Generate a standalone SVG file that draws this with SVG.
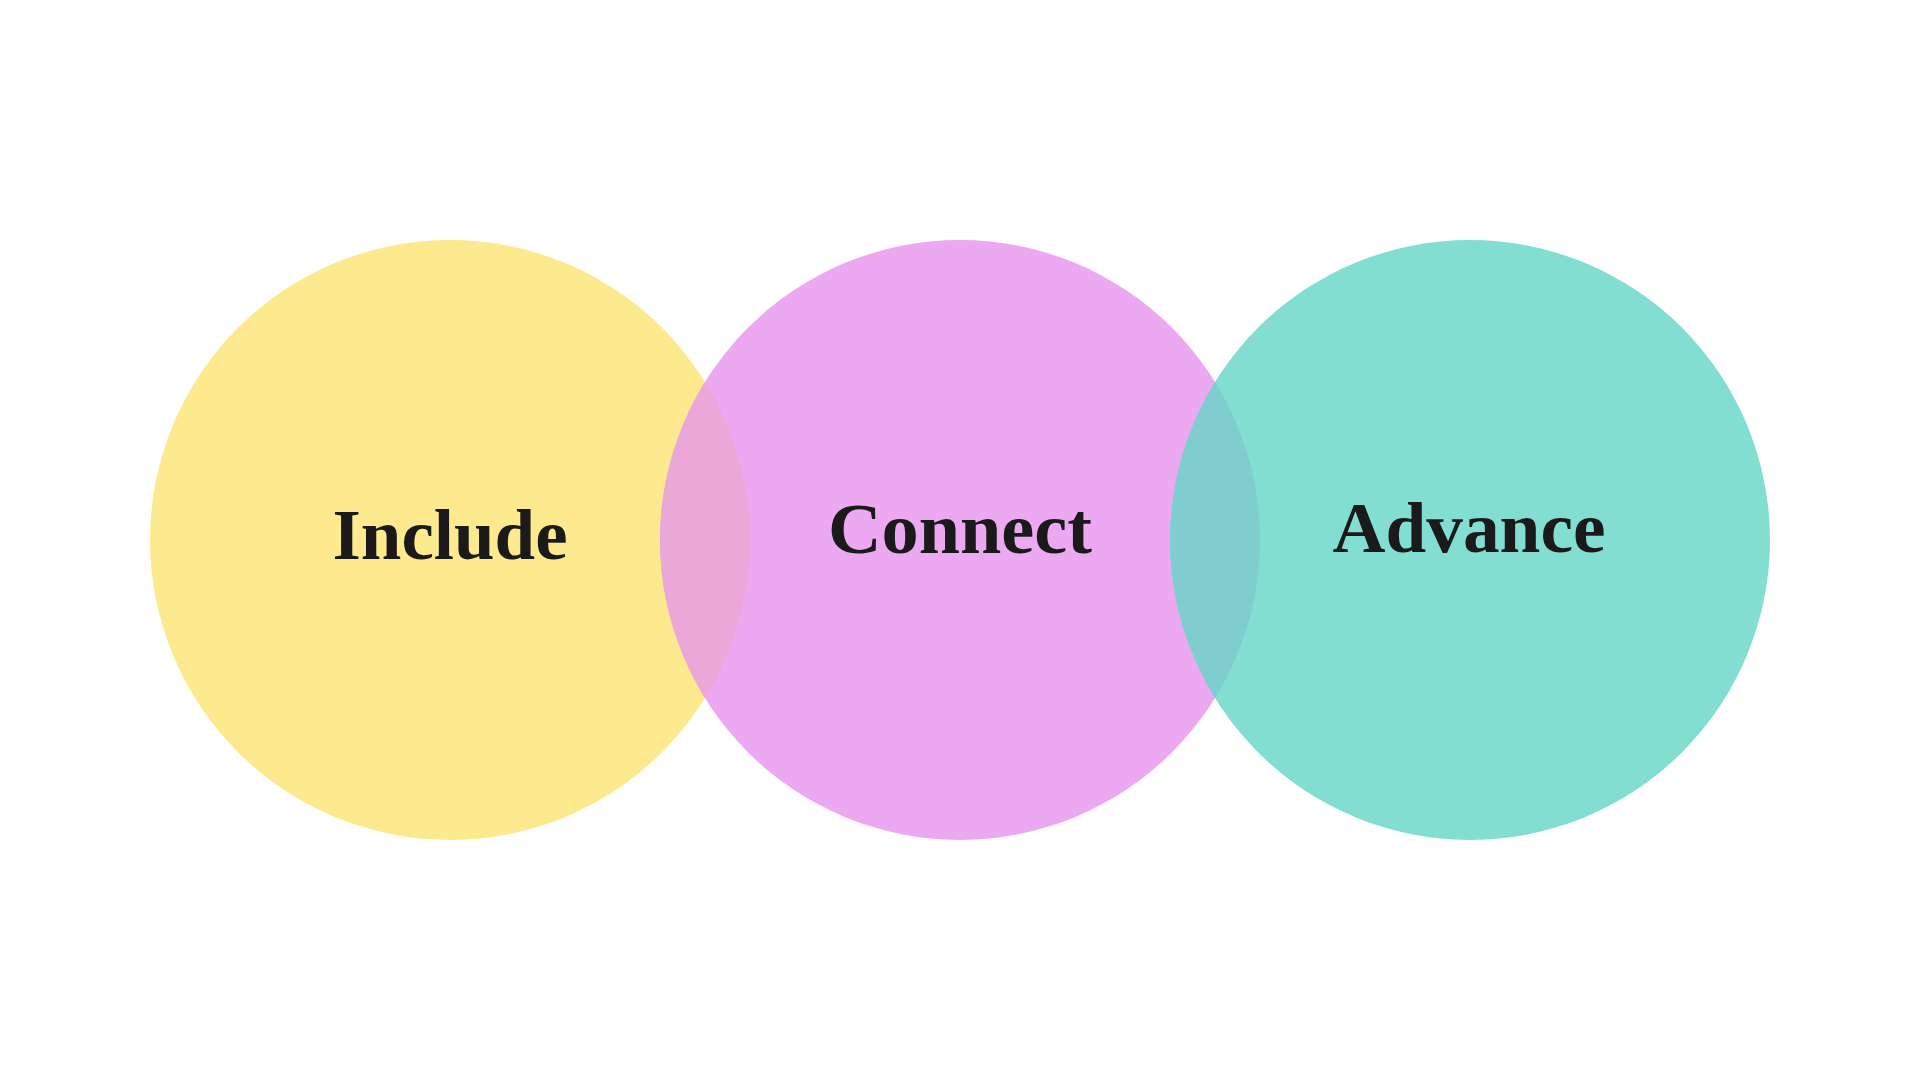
<svg xmlns="http://www.w3.org/2000/svg" width="1920" height="1080" viewBox="0 0 1920 1080">
<defs>
<style>
.lbl{font-family:"Liberation Serif","DejaVu Serif",serif;font-weight:bold;font-size:72px;fill:#1a1a1a;text-anchor:middle}
</style>
<clipPath id="clipY"><circle cx="450" cy="540" r="300"/></clipPath>
<clipPath id="clipP"><circle cx="960" cy="540" r="300"/></clipPath>
</defs>
<rect width="1920" height="1080" fill="#ffffff"/>
<g id="include">
<circle cx="450" cy="540" r="300" fill="#FEEA8E"/>
</g>
<g id="connect">
<circle cx="960" cy="540" r="300" fill="#ECA9F1"/>
</g>
<g id="advance">
<circle cx="1470" cy="540" r="300" fill="#82DED1"/>
</g>
<g id="overlaps">
<circle cx="960" cy="540" r="300" fill="#EBA7D8" clip-path="url(#clipY)"/>
<circle cx="1470" cy="540" r="300" fill="#80CDCF" clip-path="url(#clipP)"/>
</g>
<g id="labels">
<text class="lbl" x="450" y="559" textLength="235" lengthAdjust="spacingAndGlyphs">Include</text>
<text class="lbl" x="960" y="553" textLength="264" lengthAdjust="spacingAndGlyphs">Connect</text>
<text class="lbl" x="1469" y="552" textLength="273" lengthAdjust="spacingAndGlyphs">Advance</text>
</g>
</svg>
